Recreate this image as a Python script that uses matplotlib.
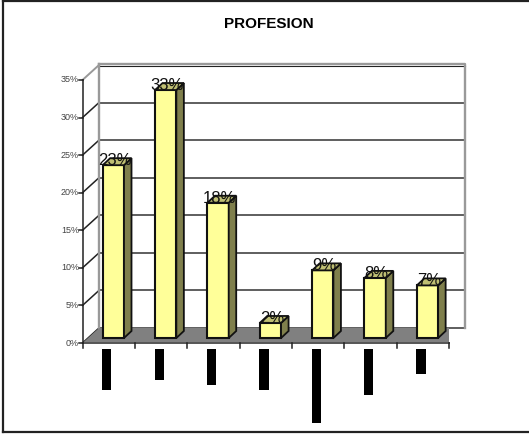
import matplotlib
matplotlib.use('Agg')
import matplotlib.pyplot as plt
from matplotlib.lines import Line2D
from matplotlib.patches import Polygon

plt.rcParams['font.family'] = ['Liberation Sans', 'DejaVu Sans']

titulo = 'PROFESION'
valores = [23, 33, 18, 2, 9, 8, 7]
etiquetas = ['23%', '33%', '18%', '2%', '9%', '8%', '7%']
y_ticks = [0, 5, 10, 15, 20, 25, 30, 35]
y_labels = ['0%', '5%', '10%', '15%', '20%', '25%', '30%', '35%']
# largo de los bloques negros bajo cada categoria (px)
bloques = [41, 31, 36, 41, 74, 46, 25]

W, H = 529, 434
fig = plt.figure(figsize=(W / 100, H / 100), dpi=100)
# eje frontal: x de 82.5 a 449 px, 0% en y=343 y 35% en y=80
ax = fig.add_axes([82.5 / W, 1 - 343 / H, 366.5 / W, 263 / H])
ax.set_xlim(0, 7)
ax.set_ylim(0, 35)
ax.axis('off')

px_x = 7 / 366.5
px_y = 35 / 263
dx, dy = 16.5 * px_x, 15 * px_y      # profundidad del grafico
bx, by = 7.5 * px_x, 7 * px_y        # profundidad de cada barra
lw1 = 1.1

# piso
ax.add_patch(Polygon([(0, 0), (7, 0), (7 + dx, dy), (dx, dy)], fc='#808080', ec='none', zorder=1))

# pared del fondo y rejilla
for t in y_ticks[:-1]:
    ax.plot([dx, 7 + dx], [t + dy, t + dy], color='#333333', lw=lw1, zorder=0.5, clip_on=False)
    ax.plot([0, dx], [t, t + dy], color='#222222', lw=lw1, zorder=0.5, clip_on=False)
ax.plot([dx, 7 + dx], [35 + dy - 0.15, 35 + dy - 0.15], color='#222222', lw=0.8, zorder=0.5, clip_on=False)
ax.plot([dx, 7 + dx, 7 + dx], [35 + dy + 0.1, 35 + dy + 0.1, dy], color='#999999', lw=1.7, zorder=0.6, clip_on=False)
ax.plot([dx, dx], [dy, 35 + dy + 0.1], color='#999999', lw=1.7, zorder=0.6, clip_on=False)
ax.plot([0, dx], [35, 35 + dy], color='#999999', lw=1.4, zorder=0.6, clip_on=False)

# ejes frontales
ax.plot([0, 0], [0, 35], color='#222222', lw=lw1, zorder=2, clip_on=False)
ax.plot([0, 7], [0, 0], color='#555555', lw=1.4, zorder=2, clip_on=False)
for t, lab in zip(y_ticks, y_labels):
    ax.plot([-3.5 * px_x, 0], [t, t], color='#222222', lw=lw1, clip_on=False)
    ax.text(-3.5 * px_x, t, lab, ha='right', va='center', fontsize=6.5, color='#444444')
for i in range(8):
    ax.plot([i, i], [0, -4.5 * px_y], color='#222222', lw=lw1, clip_on=False)

# barras
base = 5 * px_y
x0 = 20.2 * px_x
ancho = 21.3 * px_x
for i, v in enumerate(valores):
    izq = i + x0
    der = izq + ancho
    tope = base + v
    ax.bar(izq, v, width=ancho, bottom=base, align='edge', color='#FFFF99', edgecolor='#111111', lw=1.5, zorder=3)
    ax.add_patch(Polygon([(der, base), (der + bx, base + by), (der + bx, tope + by), (der, tope)],
                         fc='#7F7F4C', ec='#111111', lw=1.3, zorder=3))
    ax.add_patch(Polygon([(izq, tope), (der, tope), (der + bx, tope + by), (izq + bx, tope + by)],
                         fc='#BFBF73', ec='#111111', lw=1.3, zorder=3))
    ax.text(izq + ancho / 2 + 1.5 * px_x, tope, etiquetas[i], ha='center', va='baseline',
            fontsize=12, color='#111111', zorder=4)

# bloques negros de las categorias
for i, largo in enumerate(bloques):
    ax.bar(i + 19.7 * px_x, -largo * px_y, width=9.3 * px_x, bottom=-6 * px_y, align='edge',
           color='black', clip_on=False, zorder=3)

fig.text(269 / W, 1 - 24.5 / H, titulo, ha='center', va='center', fontsize=11, fontweight='bold', color='black')

# marco exterior, abierto a la derecha
marco = dict(color='#222222', lw=1.6, transform=fig.transFigure)
fig.add_artist(Line2D([3 / W, 3 / W], [1 - 0.5 / H, 1 - 431.5 / H], **marco))
fig.add_artist(Line2D([3 / W, 1], [1 - 0.5 / H, 1 - 0.5 / H], **marco))
fig.add_artist(Line2D([3 / W, 1], [1 - 431.5 / H, 1 - 431.5 / H], **marco))

fig.savefig('out.png', dpi=100)
